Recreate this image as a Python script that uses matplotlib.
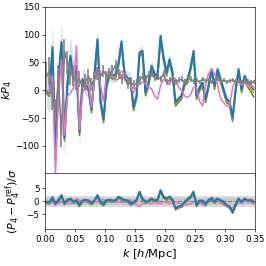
import numpy as np
import matplotlib
matplotlib.use("Agg")
import matplotlib.pyplot as plt

# === Data ===
k = np.arange(70) * 0.005 + 0.0025

kp4_blue = [-2, -5, 78, -118, 20, 87, -85, 15, 62, 22,
            44, -75, 20, 11, 5, -34, 30, 92, -19, -52,
            10, 32, 26, 28, 50, 88, 30, 22, 20, -30,
            -10, 68, 71, -4, 14, 44, 30, 26, 98, 60,
            32, 56, 32, -22, -15, -10, 14, 20, 41, 71,
            -10, 5, 14, -16, 10, 38, 8, 38, 20, 2,
            -16, -20, -50, 2, 38, 2, 26, 14, 10, 2]
kp4_orange = [-4, -8, 75, -121, 17, 84, -88, 12, 59, 19,
              41, -78, 17, 8, 2, -37, 27, 89, -22, -55,
              7, 29, 23, 25, 47, 85, 27, 19, 17, -33,
              -13, 65, 68, -7, 11, 41, 27, 23, 95, 57,
              29, 53, 29, -25, -18, -13, 11, 17, 38, 68,
              -13, 2, 11, -19, 7, 35, 5, 35, 17, -1,
              -19, -23, -53, -1, 35, -1, 23, 10, 4, -4]
kp4_green = [-6, -11, 72, -124, 14, 81, -91, 9, 56, 16,
             38, -81, 14, 5, -1, -40, 24, 86, -25, -58,
             4, 26, 20, 22, 44, 82, 24, 16, 14, -36,
             -16, 62, 65, -10, 8, 38, 24, 20, 92, 54,
             26, 50, 26, -28, -21, -16, 8, 14, 35, 65,
             -16, -1, 8, -22, 4, 32, 2, 32, 14, -4,
             -22, -26, -56, -4, 32, -4, 20, 6, -2, -12]
kp4_pink = [0, -3, 25, -150, -10, 55, -80, -10, -5, 5,
            80, -70, -5, 8, 15, -30, 20, 40, 10, -20,
            30, 35, 25, 18, 20, 35, 28, 18, 10, -5,
            8, 10, 15, 12, 5, 3, -10, -16, 8, 20,
            15, 10, 25, 20, 5, 0, -10, -13, -8, 5,
            5, -20, -28, 10, 30, 38, 30, 10, -15, -22,
            -28, -30, 5, 18, 15, 10, 12, 8, 10, 5]
sigma_blue = [30, 35, 40, 45, 40, 40, 38, 35, 35, 30,
              28, 25, 22, 20, 20, 18, 18, 18, 15, 15,
              14, 14, 13, 13, 13, 12, 12, 12, 11, 11,
              11, 10, 10, 10, 10, 10, 9, 9, 9, 9,
              9, 9, 8, 8, 8, 8, 8, 8, 8, 8,
              7, 7, 7, 7, 7, 7, 7, 7, 7, 7,
              7, 7, 7, 7, 7, 7, 7, 7, 7, 7]

kp4_ref = [25, 35, -10, -40, 20, -80, 70, 50, 30, 25,
           15, 20, 5, 15, 25, 10, 20, 30, 25, 35,
           25, 30, 35, 45, 30, 20, 25, 10, 15, 10,
           12, 18, 25, 20, 28, 30, 22, 25, 20, 30,
           15, 18, 20, 15, 18, 20, 15, 18, 20, 16,
           18, 15, 20, 17, 18, 15, 18, 20, 16, 18,
           15, 17, 18, 16, 17, 15, 18, 16, 14, 15]
err_ref = [25, 25, 25, 25, 25, 22, 22, 20, 20, 18,
           15, 15, 14, 14, 13, 12, 12, 12, 11, 11,
           10, 10, 10, 10, 9, 9, 9, 8, 8, 8,
           8, 7, 7, 7, 7, 7, 6, 6, 6, 6,
           6, 5, 5, 5, 5, 5, 5, 5, 5, 5,
           4, 4, 4, 4, 4, 4, 4, 4, 4, 4,
           4, 4, 4, 4, 4, 4, 4, 4, 4, 4]

res_blue = [-0.3, -0.5, 1.5, -1.0, 0.5, 2.3, -0.8, 0.5, 1.0, -0.2,
            0.2, -1.5, 0.2, 0.5, 0.2, -0.8, 0.3, 2.3, -0.3, -1.2,
            0.3, 0.5, 0.2, 0.3, 1.7, 1.0, 0.4, 0.3, -0.9, -0.5,
            0.5, 3.6, 1.0, -0.3, 0.2, 1.0, 0.3, 0.5, 4.2, 1.7,
            1.0, 1.8, 0.5, -2.8, -2.0, -1.8, -0.3, 0.8, 1.7, 3.6,
            -1.5, 0.2, 0.2, -1.2, 0.5, 1.0, -0.2, 1.0, 0.3, -0.2,
            -1.5, -2.0, -4.1, -1.5, 1.0, -0.3, 1.0, 0.3, 0.5, -0.3]
res_orange = [-0.6, -0.8, 1.2, -1.3, 0.2, 2.0, -1.1, 0.2, 0.7, -0.5,
              -0.1, -1.8, -0.1, 0.2, -0.1, -1.1, 0.0, 2.0, -0.6, -1.5,
              0.0, 0.2, -0.1, 0.0, 1.4, 0.7, 0.1, 0.0, -1.2, -0.8,
              0.2, 3.3, 0.7, -0.6, -0.1, 0.7, 0.0, 0.2, 3.9, 1.4,
              0.7, 1.5, 0.2, -3.1, -2.3, -2.1, -0.6, 0.5, 1.4, 3.3,
              -1.8, -0.1, -0.1, -1.5, 0.2, 0.7, -0.5, 0.7, 0.0, -0.5,
              -1.8, -2.3, -4.4, -1.8, 0.7, -0.6, 0.7, 0.0, 0.2, -0.6]
res_green = [-0.9, -1.1, 0.9, -1.6, -0.1, 1.7, -1.4, -0.1, 0.4, -0.8,
             -0.4, -2.1, -0.4, -0.1, -0.4, -1.4, -0.3, 1.7, -0.9, -1.8,
             -0.3, -0.1, -0.4, -0.3, 1.1, 0.4, -0.2, -0.3, -1.5, -1.1,
             -0.1, 3.0, 0.4, -0.9, -0.4, 0.4, -0.3, -0.1, 3.6, 1.1,
             0.4, 1.2, -0.1, -3.4, -2.6, -2.4, -0.9, 0.2, 1.1, 3.0,
             -2.1, -0.4, -0.4, -1.8, -0.1, 0.4, -0.8, 0.4, -0.3, -0.8,
             -2.1, -2.6, -4.7, -2.1, 0.4, -0.9, 0.4, -0.3, -0.1, -0.9]
res_pink = [-0.5, -0.8, -0.5, -1.5, -0.8, -0.3, -0.5, -0.8, -1.0, -0.3,
            1.0, 0.3, -0.5, -0.3, 0.5, -0.3, 0.2, -0.5, 0.3, 0.5,
            0.2, 0.3, -0.2, -0.3, -0.2, -0.5, -0.3, 0.2, 0.5, -0.5,
            -1.5, -2.2, -1.0, -0.5, -0.8, -1.0, -0.5, -0.8, -1.0, -0.3,
            -0.5, -1.0, -0.5, -0.3, -0.8, -1.2, -1.5, -1.3, -1.0, -0.5,
            0.3, -0.5, -1.5, -1.8, 0.5, 1.5, 1.0, 0.2, -0.8, -1.5,
            -2.0, -2.8, -2.5, -1.0, -0.5, -0.8, 0.3, -0.2, -0.5, -0.8]

kp4_blue = np.array(kp4_blue)
sigma_blue = np.array(sigma_blue)

plt.rcParams["font.size"] = 14
plt.rcParams["xtick.labelsize"] = 11
plt.rcParams["ytick.labelsize"] = 11

# === Plot ===
fig = plt.figure(figsize=(266 / 57, 266 / 57), dpi=57)
ax = fig.add_axes([0.169, 0.350, 0.790, 0.624])
axr = fig.add_axes([0.169, 0.138, 0.790, 0.212], sharex=ax)

ax.fill_between(k, kp4_blue - sigma_blue, kp4_blue + sigma_blue, color="C0", alpha=0.2, lw=0)
ax.plot(k, kp4_green, color="C2", lw=2)
ax.plot(k, kp4_orange, color="C1", lw=2)
ax.plot(k, kp4_blue, color="C0", lw=2.6)
ax.plot(k, kp4_pink, color="C6", lw=2)
ax.errorbar(k, kp4_ref, yerr=err_ref, color="C7", lw=2, elinewidth=2)
ax.set_ylabel("$kP_4$", fontsize=14, labelpad=2)
ax.set_ylim(-148.7, 150)
ax.set_xlim(0, 0.35)
ax.set_yticks([-100, -50, 0, 50, 100, 150])
ax.tick_params(labelbottom=False)

axr.axhspan(-2, 2, color="0.85")
axr.axhspan(-1, 1, color="0.75", alpha=0.5)
axr.axhline(0, color="0.5", ls="--", lw=1.5)
axr.plot(k, res_green, color="C2", lw=2)
axr.plot(k, res_orange, color="C1", lw=2)
axr.plot(k, res_pink, color="C6", lw=2)
axr.plot(k, res_blue, color="C0", lw=2.6)
axr.set_ylim(-10.8, 10.8)
axr.set_yticks([-5, 0, 5])
axr.set_xticks([0.0, 0.05, 0.1, 0.15, 0.2, 0.25, 0.3, 0.35])
axr.set_xlim(0, 0.35)
axr.set_xlabel("$k$ [$h$/Mpc]", fontsize=14.5)
axr.set_ylabel(r"$(P_4-P_4^{\rm ref})/\sigma$", fontsize=14)

plt.savefig("out.png", dpi=57)
